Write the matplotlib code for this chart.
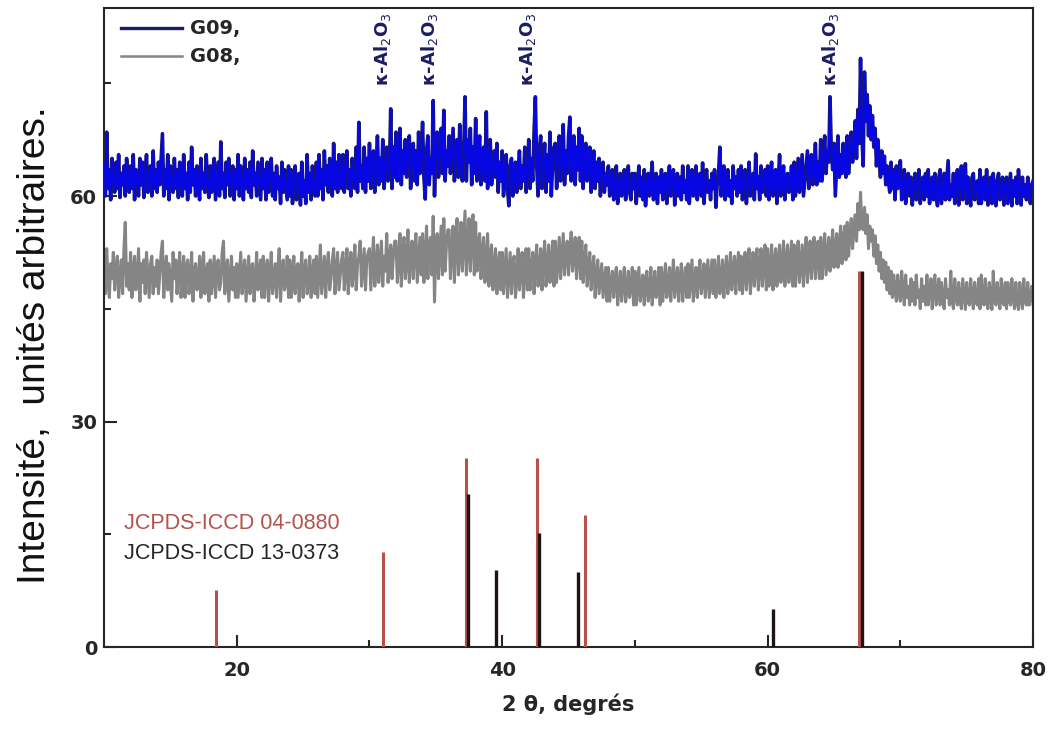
import numpy as np
import matplotlib

matplotlib.use("Agg")
import matplotlib.pyplot as plt
from matplotlib.ticker import MultipleLocator

# Diffractograms, one count value every 0.1 deg from 10 to 80 deg (2 theta)
G09 = [
    64.5, 60.0, 68.5, 61.0, 63.5, 59.5, 65.0, 62.0, 60.5, 64.5, 61.0, 65.5, 59.8, 63.0, 61.5, 64.0, 60.0, 65.0, 62.5, 60.5,
    64.0, 61.0, 65.5, 59.5, 63.5, 62.0, 60.0, 65.0, 61.5, 64.5, 59.8, 63.0, 65.5, 60.5, 62.5, 64.0, 60.0, 66.0, 61.0, 63.5,
    60.5, 64.5, 61.5, 65.0, 68.3, 60.0, 63.5, 61.0, 65.5, 59.5, 64.0, 62.0, 60.5, 65.0, 61.0, 63.5, 59.8, 64.5, 62.0, 60.0,
    65.5, 61.0, 63.0, 59.5, 64.5, 60.5, 66.5, 61.5, 63.5, 60.0, 64.0, 62.0, 59.5, 65.0, 61.0, 63.0, 60.5, 65.5, 61.5, 59.8,
    64.0, 60.5, 63.5, 65.0, 59.5, 62.0, 64.5, 60.0, 67.2, 61.0, 63.0, 59.8, 64.5, 61.5, 65.0, 60.0, 62.5, 64.0, 59.5, 63.5,
    61.0, 65.5, 60.0, 64.0, 62.0, 59.5, 65.0, 61.0, 63.5, 60.5, 64.5, 59.8, 66.0, 61.5, 63.0, 60.0, 64.5, 62.0, 59.5, 65.0,
    61.0, 63.5, 59.5, 64.5, 60.5, 62.5, 65.0, 60.0, 63.0, 59.5, 64.0, 61.0, 62.5, 59.0, 64.5, 60.5, 63.5, 61.5, 59.5, 64.0,
    60.0, 63.5, 59.0, 62.5, 64.0, 59.5, 61.5, 63.0, 58.8, 64.5, 60.0, 62.0, 59.0, 65.5, 60.5, 63.0, 59.5, 64.0, 61.0, 60.0,
    64.5, 60.0, 65.5, 61.0, 63.5, 59.5, 66.0, 61.5, 64.0, 60.5, 65.0, 62.0, 60.0, 67.0, 61.0, 64.5, 60.5, 65.5, 62.0, 61.0,
    65.5, 60.5, 64.0, 66.0, 61.0, 63.5, 60.0, 65.0, 62.5, 61.0, 66.5, 60.5, 69.8, 62.0, 64.0, 61.0, 66.5, 60.5, 65.0, 62.0,
    67.0, 61.0, 64.5, 66.0, 60.5, 63.5, 68.0, 61.5, 65.0, 62.0, 67.5, 61.0, 64.0, 66.5, 62.0, 63.5, 71.6, 61.0, 66.5, 62.5,
    68.5, 62.0, 65.0, 69.0, 61.5, 66.0, 63.0, 67.5, 62.5, 65.5, 68.0, 61.0, 64.5, 67.0, 62.0, 66.0, 61.5, 68.5, 63.0, 65.0,
    69.8, 62.5, 59.6, 66.0, 68.0, 61.5, 65.0, 63.0, 72.7, 60.0, 66.5, 68.5, 62.5, 65.5, 69.0, 63.0, 71.4, 62.0, 66.0, 64.0,
    68.0, 63.0, 66.0, 69.0, 62.0, 65.5, 67.5, 62.5, 69.5, 64.0, 62.0, 66.0, 73.2, 62.0, 67.5, 64.5, 69.0, 61.5, 66.5, 63.0,
    70.3, 62.0, 65.5, 68.0, 61.5, 64.5, 66.5, 62.0, 71.2, 61.0, 65.0, 67.5, 61.5, 64.0, 66.0, 62.5, 67.0, 60.5, 64.5, 62.0,
    66.0, 60.0, 63.5, 65.5, 61.0, 58.7, 64.0, 65.0, 60.0, 62.5, 64.5, 60.5, 63.0, 66.0, 61.0, 64.0, 62.0, 66.5, 60.5, 63.5,
    67.5, 61.0, 65.0, 62.0, 68.5, 73.2, 64.0, 60.0, 66.0, 68.0, 61.0, 64.5, 67.0, 60.5, 65.5, 62.0, 68.5, 60.0, 64.0, 66.5,
    67.0, 61.0, 65.0, 68.0, 62.0, 64.5, 69.5, 61.5, 66.0, 63.0, 68.0, 70.5, 62.0, 65.5, 68.0, 61.5, 66.5, 63.5, 69.0, 62.0,
    68.0, 61.0, 65.0, 67.0, 62.0, 64.0, 66.5, 60.5, 63.5, 66.0, 61.0, 64.5, 62.0, 65.0, 60.0, 63.5, 64.5, 60.5, 63.0, 61.5,
    64.0, 60.0, 62.5, 63.5, 59.5, 61.5, 64.0, 59.0, 62.0, 63.0, 60.0, 61.5, 63.5, 59.5, 62.0, 64.0, 60.5, 59.5, 63.0, 61.0,
    63.0, 59.0, 61.5, 64.0, 60.0, 62.5, 59.5, 63.5, 58.7, 61.0, 63.0, 60.0, 62.0, 64.5, 59.5, 61.5, 63.0, 59.0, 62.5, 60.5,
    63.5, 59.5, 61.0, 63.0, 59.0, 62.0, 64.0, 60.0, 61.5, 63.5, 58.8, 61.0, 63.0, 60.0, 62.5, 59.5, 64.0, 60.5, 62.0, 59.5,
    64.0, 59.0, 62.0, 63.5, 60.0, 61.5, 64.0, 59.5, 62.5, 63.0, 60.0, 64.4, 59.0, 61.5, 63.5, 60.5, 62.0, 59.5, 63.0, 61.0,
    63.5, 58.5, 61.5, 63.0, 66.5, 60.0, 62.5, 64.0, 59.5, 61.0, 63.5, 60.0, 62.0, 59.0, 64.0, 61.0, 62.5, 60.0, 63.5, 60.5,
    64.0, 59.5, 62.0, 63.5, 59.0, 61.5, 64.5, 60.0, 62.5, 63.0, 59.5, 65.6, 61.0, 62.5, 59.5, 64.0, 60.5, 62.0, 63.5, 60.0,
    64.0, 59.5, 62.5, 64.5, 60.0, 61.5, 63.5, 59.0, 62.0, 65.5, 60.0, 61.5, 64.0, 59.5, 62.5, 63.0, 60.5, 61.5, 64.0, 59.5,
    64.5, 60.0, 62.5, 65.0, 60.5, 63.0, 65.5, 60.0, 62.0, 64.0, 66.0, 61.0, 63.5, 65.5, 61.5, 63.0, 67.0, 61.5, 64.5, 62.0,
    67.5, 62.0, 65.0, 68.0, 63.0, 66.0, 64.5, 73.2, 66.0, 63.5, 67.0, 60.0, 64.0, 68.0, 62.5, 65.5, 63.0, 67.0, 64.0, 62.5,
    68.0, 63.0, 66.0, 68.5, 64.5, 66.5, 70.0, 65.0, 71.5, 67.0, 78.3, 68.0, 64.0, 76.5, 70.0, 73.5, 68.0, 72.0, 67.5, 70.7,
    66.5, 69.0, 64.0, 67.5, 65.0, 62.5, 66.0, 63.0, 65.3, 61.5, 64.0, 62.0, 60.5, 64.5, 61.0, 63.5, 59.5, 64.0, 61.0, 62.5,
    64.7, 59.5, 62.0, 63.5, 59.0, 61.5, 63.0, 60.0, 62.5, 58.8, 61.5, 63.0, 59.5, 62.0, 63.5, 59.0, 61.0, 62.5, 59.5, 63.0,
    60.0, 63.5, 59.0, 61.5, 62.5, 59.5, 63.0, 60.0, 58.7, 62.5, 63.5, 59.0, 61.0, 63.0, 59.5, 62.0, 64.7, 59.5, 61.5, 60.0,
    63.0, 59.0, 61.5, 63.5, 58.8, 62.0, 64.0, 59.5, 61.0, 64.3, 59.0, 62.5, 60.0, 58.7, 62.5, 63.0, 59.5, 61.0, 62.0, 59.0,
    63.5, 59.0, 61.5, 62.5, 59.5, 63.5, 58.8, 61.0, 62.5, 59.0, 63.0, 60.5, 58.7, 62.0, 63.0, 59.5, 61.0, 62.5, 58.8, 61.5,
    62.5, 59.0, 61.0, 63.0, 58.7, 62.0, 60.0, 62.5, 59.0, 63.5, 61.0, 58.8, 62.5, 60.0, 61.5, 59.5, 62.5, 60.5, 59.0, 61.5,
    62.0,
]
G08 = [
    51.5, 47.0, 53.0, 48.5, 46.5, 51.0, 49.0, 52.5, 47.5, 50.0, 52.0, 46.5, 49.5, 51.5, 47.0, 53.0, 56.5, 48.0, 51.0, 47.5,
    52.5, 46.5, 50.0, 52.0, 47.5, 49.0, 53.0, 46.0, 51.0, 48.5, 51.5, 47.0, 52.5, 49.5, 46.5, 51.0, 52.0, 47.0, 50.5, 48.0,
    51.5, 47.0, 49.5, 52.5, 54.0, 46.5, 50.0, 52.0, 47.5, 51.0, 48.5, 46.0, 52.5, 49.0, 51.5, 47.0, 50.0, 52.5, 46.5, 49.5,
    52.0, 46.5, 50.5, 51.5, 47.0, 49.0, 52.5, 46.0, 50.0, 51.0, 47.5, 48.5, 52.0, 46.5, 50.5, 52.5, 47.0, 49.5, 51.0, 46.0,
    51.5, 47.0, 49.5, 52.0, 46.5, 50.5, 51.5, 47.5, 48.5, 52.5, 54.0, 47.0, 50.0, 51.5, 46.0, 49.0, 52.0, 47.5, 50.5, 46.5,
    51.0, 46.5, 49.5, 52.5, 47.0, 50.0, 51.5, 46.0, 49.0, 52.0, 47.0, 50.5, 51.0, 46.0, 48.5, 52.5, 47.5, 50.0, 51.5, 46.5,
    52.0, 46.5, 50.0, 51.5, 46.0, 49.5, 52.5, 47.0, 49.0, 51.0, 46.5, 50.5, 53.0, 46.0, 49.5, 51.5, 47.5, 48.5, 52.0, 46.5,
    51.5, 46.5, 49.0, 52.0, 47.0, 50.5, 51.0, 46.0, 49.5, 52.5, 46.5, 50.0, 51.5, 47.0, 48.5, 52.0, 46.5, 50.0, 51.5, 47.0,
    52.0, 46.5, 50.0, 53.5, 47.0, 49.5, 52.0, 46.5, 50.5, 52.5, 47.5, 49.0, 51.5, 53.0, 47.0, 50.0, 52.5, 47.5, 49.5, 51.5,
    52.5, 47.5, 50.0, 53.0, 47.0, 51.0, 52.5, 48.0, 50.5, 53.5, 47.5, 51.0, 52.0, 54.0, 48.0, 50.5, 53.0, 47.5, 51.5, 52.5,
    53.0, 47.5, 51.0, 54.5, 48.0, 50.5, 53.5, 48.5, 51.5, 54.0, 48.0, 52.0, 50.0, 55.0, 48.5, 51.5, 53.5, 49.0, 52.0, 54.0,
    54.0, 48.5, 51.5, 55.0, 48.0, 52.5, 54.5, 49.0, 51.0, 55.5, 48.5, 52.0, 54.0, 49.0, 53.0, 55.0, 48.5, 51.5, 54.5, 49.5,
    55.0, 48.5, 52.0, 56.0, 49.0, 53.5, 54.5, 49.5, 57.3, 45.9, 53.0, 55.0, 49.0, 52.5, 56.0, 49.5, 57.0, 50.0, 53.5, 55.5,
    55.5, 49.0, 53.0, 56.0, 48.5, 54.5, 57.0, 49.5, 52.5, 56.5, 50.0, 54.0, 58.0, 49.5, 53.5, 57.0, 50.0, 55.0, 57.5, 49.5,
    56.5, 50.0, 53.5, 55.0, 49.0, 52.5, 54.5, 48.5, 51.5, 55.0, 48.0, 52.0, 53.5, 47.5, 50.5, 53.0, 47.0, 51.0, 52.5, 47.5,
    52.5, 47.0, 50.0, 53.0, 46.5, 49.5, 52.5, 47.0, 51.0, 52.0, 46.5, 49.0, 53.0, 47.5, 50.5, 52.5, 46.5, 50.0, 53.0, 47.5,
    53.0, 47.5, 50.5, 52.5, 47.0, 51.0, 53.5, 48.0, 50.0, 53.0, 47.5, 51.5, 54.0, 48.0, 50.5, 53.5, 48.5, 51.0, 54.0, 48.0,
    54.0, 48.5, 51.5, 54.5, 49.0, 52.0, 55.0, 49.5, 52.5, 54.0, 49.5, 53.0, 55.2, 50.0, 52.0, 54.5, 49.0, 52.5, 54.5, 49.0,
    54.0, 48.5, 51.5, 53.5, 48.0, 50.5, 52.5, 47.5, 50.0, 52.0, 46.5, 49.5, 51.5, 47.0, 49.0, 51.0, 46.5, 48.5, 50.5, 46.0,
    50.5, 46.0, 48.5, 50.0, 46.5, 49.0, 50.5, 45.5, 48.0, 50.0, 46.0, 48.5, 50.5, 45.9, 47.5, 50.0, 46.5, 48.0, 50.5, 45.5,
    50.0, 45.5, 48.0, 50.5, 46.0, 47.5, 49.5, 45.5, 48.5, 50.0, 46.0, 47.0, 50.5, 45.5, 48.0, 50.0, 46.5, 47.5, 50.5, 45.5,
    50.5, 46.0, 48.5, 51.0, 46.5, 48.0, 50.5, 46.0, 49.0, 51.5, 46.5, 48.5, 50.5, 46.0, 49.0, 51.0, 46.0, 48.5, 50.5, 46.5,
    51.0, 46.5, 49.0, 51.5, 46.0, 48.5, 50.5, 46.5, 49.5, 51.5, 47.0, 48.5, 51.0, 46.5, 49.0, 51.5, 46.5, 49.0, 51.5, 47.0,
    51.5, 46.5, 49.5, 52.0, 47.0, 49.0, 51.5, 46.5, 50.0, 52.0, 47.0, 49.5, 52.5, 47.5, 50.0, 52.0, 47.0, 50.5, 52.5, 47.5,
    52.0, 47.0, 50.0, 52.5, 47.5, 50.5, 53.0, 47.0, 50.0, 52.5, 48.0, 51.0, 53.0, 47.5, 50.5, 53.0, 48.0, 51.0, 53.5, 47.5,
    53.0, 48.0, 50.5, 53.5, 47.5, 51.0, 53.0, 48.0, 51.5, 53.5, 48.5, 51.0, 54.0, 48.0, 51.5, 53.5, 48.5, 51.0, 54.0, 48.0,
    53.5, 48.0, 51.5, 54.0, 48.5, 51.0, 53.5, 48.0, 52.0, 54.5, 48.5, 51.5, 54.0, 49.0, 52.0, 54.5, 49.0, 52.0, 54.0, 49.0,
    54.5, 49.0, 52.5, 55.0, 49.5, 52.0, 54.5, 50.0, 53.0, 55.5, 50.5, 53.0, 55.0, 50.5, 53.5, 56.0, 51.0, 54.0, 56.0, 51.5,
    56.5, 52.0, 55.0, 57.0, 53.0, 55.5, 57.5, 54.0, 59.0, 55.5, 60.5, 56.0, 55.5, 58.5, 55.0, 57.5, 53.0, 56.0, 54.0, 55.5,
    52.0, 54.7, 51.0, 53.5, 50.0, 52.5, 49.0, 51.5, 48.5, 51.2, 47.5, 50.5, 47.0, 50.0, 46.5, 49.5, 47.5, 46.0, 49.5, 47.0,
    46.0, 50.0, 47.5, 45.5, 49.5, 46.5, 48.0, 45.5, 49.0, 46.0, 48.5, 45.5, 49.5, 46.5, 47.5, 45.0, 49.0, 46.0, 48.0, 45.5,
    49.5, 45.5, 47.5, 49.0, 45.0, 48.0, 49.5, 45.5, 47.0, 49.0, 45.5, 48.5, 46.0, 45.0, 49.0, 46.5, 47.5, 45.5, 50.0, 46.0,
    45.0, 49.0, 46.5, 45.5, 48.5, 46.0, 45.0, 49.0, 47.0, 44.9, 48.5, 46.0, 45.5, 49.0, 46.5, 45.0, 48.5, 46.0, 45.5, 49.0,
    45.0, 49.5, 46.5, 45.5, 49.0, 46.0, 45.0, 48.5, 46.5, 44.9, 50.0, 46.0, 45.5, 48.5, 46.5, 45.0, 49.0, 46.0, 45.5, 48.5,
    45.0, 48.5, 46.0, 45.5, 49.0, 46.5, 45.0, 48.5, 46.0, 44.9, 48.5, 46.5, 45.0, 49.0, 46.0, 45.5, 48.5, 45.5, 46.5, 48.0,
    45.5,
]
assert len(G09) == len(G08) == 701
TWO_THETA = np.linspace(10, 80, len(G09))

# Reference cards (stick patterns)
CARD_04_0880_POS = [18.4, 31.0, 37.25, 42.6, 46.25, 66.9]
CARD_04_0880_INT = [7.6, 12.7, 25.2, 25.2, 17.6, 50.0]
CARD_13_0373_POS = [37.4, 39.55, 42.75, 45.7, 60.4, 67.1]
CARD_13_0373_INT = [20.3, 10.3, 15.2, 10.0, 5.1, 50.0]

PEAK_LABEL_POS = [31.0, 34.5, 41.9, 64.7]

NAVY = "#1c1c62"
BLUE = "#0707e4"
GREY = "#858585"
CARD_RED = "#b5524c"
INK = "#262626"

fig = plt.figure(figsize=(10.52, 7.36), dpi=100)
ax = fig.add_axes([0.0989, 0.1209, 0.8831, 0.8681])

# navy underlay gives the dark rim around the dense blue trace
ax.plot(TWO_THETA, G09, color=NAVY, linewidth=2.6, zorder=2)
ax.plot(TWO_THETA, G09, color=BLUE, linewidth=1.5, zorder=3)
ax.plot(TWO_THETA, G08, color=GREY, linewidth=2.2, zorder=2)

ax.vlines(CARD_04_0880_POS, 0, CARD_04_0880_INT, color=CARD_RED, linewidth=2.2, zorder=4)
ax.vlines(CARD_13_0373_POS, 0, CARD_13_0373_INT, color="#1f1212", linewidth=2.4, zorder=5)

for x in PEAK_LABEL_POS:
    ax.text(x, 74.6, r"$\mathbf{\kappa}$-Al$_2$O$_3$", rotation=90, ha="center", va="bottom",
            color=NAVY, fontsize=13, fontweight="bold")

ax.text(11.5, 16.4, "JCPDS-ICCD 04-0880", color=CARD_RED, fontsize=15.5, va="center",
        family="Liberation Sans")
ax.text(11.5, 12.5, "JCPDS-ICCD 13-0373", color=INK, fontsize=15.5, va="center",
        family="Liberation Sans")

# legend drawn by hand so the G09 key uses the navy trace colour
ax.plot([11.25, 15.85], [82.3, 82.3], color=NAVY, linewidth=2.4, clip_on=False)
ax.plot([11.25, 15.85], [78.6, 78.6], color=GREY, linewidth=1.8, clip_on=False)
ax.text(16.5, 82.3, "G09,", fontsize=14, fontweight="bold", color=INK, va="center")
ax.text(16.5, 78.6, "G08,", fontsize=14, fontweight="bold", color=INK, va="center")

ax.set_xlim(10, 80)
ax.set_ylim(0, 85)
ax.xaxis.set_major_locator(MultipleLocator(20))
ax.xaxis.set_minor_locator(MultipleLocator(10))
ax.yaxis.set_major_locator(MultipleLocator(30))
ax.yaxis.set_minor_locator(MultipleLocator(15))
ax.tick_params(which="both", direction="in", width=1.5, color=INK)
ax.tick_params(which="major", length=9, labelsize=14, labelcolor=INK)
ax.tick_params(axis="x", which="major", pad=10)
ax.tick_params(axis="y", which="major", pad=5)
ax.tick_params(which="minor", length=5)
for lab in ax.get_xticklabels() + ax.get_yticklabels():
    lab.set_fontweight("bold")
for side in ax.spines.values():
    side.set_linewidth(1.5)
    side.set_color(INK)

ax.set_xlabel("2 θ, degrés", fontsize=15, fontweight="bold", color=INK, labelpad=10)
ax.set_ylabel("Intensité,  unités arbitraires.", fontsize=28, family="Liberation Sans",
              color="#111111")
ax.yaxis.set_label_coords(-0.055, 0.473)

fig.savefig("out.png", dpi=100)
